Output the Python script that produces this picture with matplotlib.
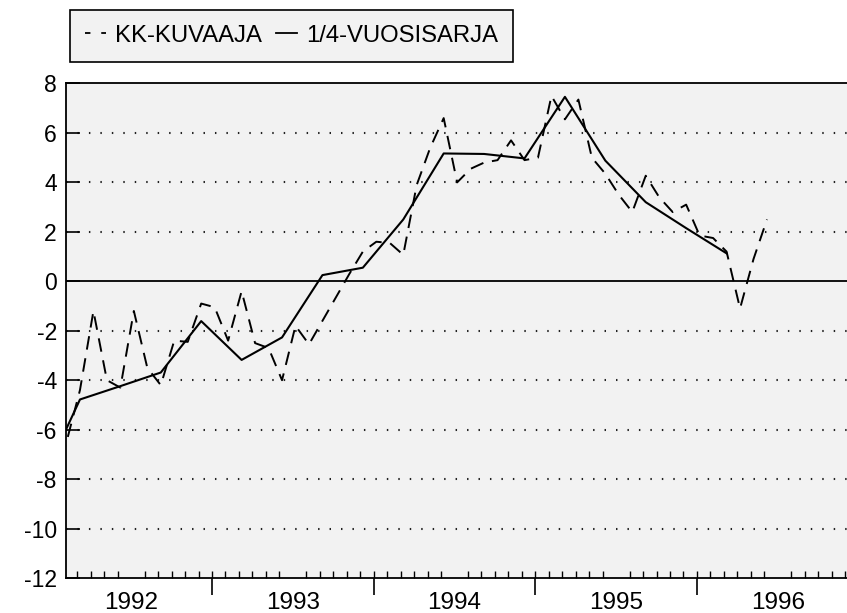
import numpy as np
import matplotlib
matplotlib.use('Agg')
import matplotlib.pyplot as plt
from matplotlib.lines import Line2D

plt.rcParams['font.family'] = ['Liberation Sans', 'DejaVu Sans']
plt.rcParams['axes.unicode_minus'] = False

# monthly series (KK-KUVAAJA), Jan 1992 .. Jun 1996
kk_values = [-8.0, -6.5, -4.4, -1.2, -4.0, -4.3, -1.2, -3.5, -4.2, -2.4, -2.45, -0.9,
             -1.05, -2.4, -0.4, -2.5, -2.7, -4.0, -1.8, -2.55, -1.6, -0.65, 0.3, 1.2,
             1.6, 1.55, 1.07, 3.9, 5.4, 6.6, 4.0, 4.55, 4.8, 4.9, 5.7, 4.9,
             5.0, 7.5, 6.55, 7.35, 5.0, 4.35, 3.5, 2.8, 4.27, 3.4, 2.8, 3.1,
             1.85, 1.75, 1.2, -1.1, 0.9, 2.5]

# quarterly series (1/4-VUOSISARJA), Q4/1991 .. Q1/1996, drawn at last month of quarter
q_values = [-8.3, -4.78, -4.24, -3.69, -1.61, -3.18, -2.27, 0.25, 0.55, 2.5,
            5.17, 5.15, 4.97, 7.46, 4.88, 3.2, 2.15, 1.13]

years = ['1992', '1993', '1994', '1995', '1996']
labels = ['KK-KUVAAJA', '1/4-VUOSISARJA']

# x in months from start of 1992, points sit a bit after the month start
month_pos = np.arange(len(kk_values)) + 0.2
q_pos = np.arange(len(q_values)) * 3 - 1 + 0.2

fig = plt.figure(figsize=(8.47, 6.13), dpi=100)
ax = fig.add_axes([0.0785, 0.0571, 0.9215, 0.8067])
ax.set_facecolor('#f2f2f2')

# dotted gridlines, solid zero line
for y in range(-10, 8, 2):
    if y != 0:
        ax.axhline(y, color='#222222', lw=1.5, linestyle=(0, (0.7, 4.8)), zorder=1)
ax.axhline(0, color='black', lw=1.3, zorder=2)

ax.plot(month_pos, kk_values, color='black', lw=1.4, dashes=(7, 4.5), zorder=3)
ax.plot(q_pos, q_values, color='black', lw=1.5, zorder=3)

ax.set_yticks(range(-12, 9, 2))
ax.tick_params(axis='y', direction='in', length=10, width=1.2, labelsize=16.5, pad=7)

ax.set_xticks(np.arange(6, 60, 12))
ax.set_xticklabels(years)
ax.tick_params(axis='x', which='major', length=0, labelsize=17.5, pad=10)
ax.set_xticks(np.arange(0, 60), minor=True)
ax.tick_params(axis='x', which='minor', direction='in', length=5, width=1)

ax.set_xlim(1.2, 59.14)
ax.set_ylim(-12, 8)

sec = ax.secondary_xaxis('bottom')
sec.set_xticks([12, 24, 36, 48])
sec.tick_params(direction='out', length=12, width=1.2, labelbottom=False)
sec.spines['bottom'].set_visible(False)

ax.spines['right'].set_visible(False)
for s in ['left', 'bottom', 'top']:
    ax.spines[s].set_linewidth(1.3)

handles = [Line2D([], [], color='black', lw=1.3, dashes=(3, 6)),
           Line2D([], [], color='black', lw=1.3)]
leg = fig.legend(handles, labels, loc='upper left', bbox_to_anchor=(70 / 847, 1 - 10 / 613),
                 ncol=2, fontsize=17.2, frameon=True, fancybox=False, edgecolor='black',
                 facecolor='#f2f2f2', framealpha=1, borderpad=0.62, handlelength=0.9,
                 handletextpad=0.35, columnspacing=0.6, borderaxespad=0)
leg.get_frame().set_linewidth(1.2)

fig.savefig('out.png', dpi=100)
